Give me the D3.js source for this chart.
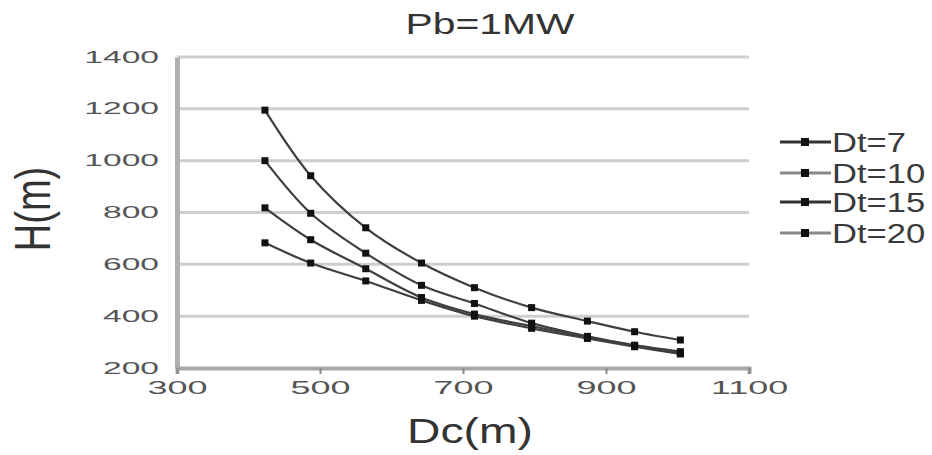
<!DOCTYPE html>
<html>
<head>
<meta charset="utf-8">
<script src="https://cdn.jsdelivr.net/npm/d3@7"></script>
<style>
  html, body { margin: 0; padding: 0; background: #fff; }
  svg { display: block; }
  text { font-family: Arial, "Liberation Sans", sans-serif; }
</style>
</head>
<body>
<svg id="chart" width="932" height="455"></svg>
<script>
// Pile height H versus distance Dc, for several Dt values (Pb = 1 MW)
const dcValues = [423, 487, 564, 642, 716, 796, 874, 940, 1004];
const seriesNames = ["Dt=7", "Dt=10", "Dt=15", "Dt=20"];
const hDt7  = [1195, 942, 741, 605, 510, 433, 381, 340, 308];
const hDt10 = [1000, 797, 643, 519, 449, 373, 322, 288, 263];
const hDt15 = [818, 695, 583, 472, 408, 361, 320, 285, 256];
const hDt20 = [683, 605, 536, 461, 400, 353, 314, 282, 254];
const xTicks = [300, 500, 700, 900, 1100];
const yTicks = [200, 400, 600, 800, 1000, 1200, 1400];

const series = [hDt7, hDt10, hDt15, hDt20].map((vals, i) => ({
  name: seriesNames[i],
  points: vals.map((h, j) => ({ x: dcValues[j], y: h }))
}));

const svg = d3.select("#chart");
const plotLeft = 177, plotRight = 749, plotTop = 57, plotBottom = 368;

const x = d3.scaleLinear().domain([300, 1100]).range([plotLeft, plotRight]);
const y = d3.scaleLinear().domain([200, 1400]).range([plotBottom, plotTop]);

// widen (or narrow) text along its own direction, keeping its anchor
function stretch(sel, factor) {
  sel.each(function () {
    const len = this.getComputedTextLength();
    d3.select(this)
      .attr("textLength", len * factor)
      .attr("lengthAdjust", "spacingAndGlyphs");
  });
}

// horizontal gridlines
svg.append("g")
  .selectAll("line")
  .data(yTicks.filter(v => v > 200))
  .join("line")
  .attr("x1", plotLeft).attr("x2", plotRight)
  .attr("y1", d => y(d)).attr("y2", d => y(d))
  .attr("stroke", "#d2cdcd").attr("stroke-width", 3);

// y axis
const yAxis = svg.append("g")
  .attr("transform", `translate(${plotLeft},0)`)
  .call(d3.axisLeft(y).tickValues(yTicks).tickSize(0).tickPadding(18).tickFormat(d3.format("d")));
yAxis.select(".domain").attr("stroke", "#b0b0b0").attr("stroke-width", 5);
yAxis.selectAll("text")
  .attr("font-size", 16).attr("fill", "#555")
  .call(stretch, 2.1);

// x axis
const xAxis = svg.append("g")
  .attr("transform", `translate(0,${plotBottom})`)
  .call(d3.axisBottom(x).tickValues(xTicks).tickSize(6).tickPadding(7).tickFormat(d3.format("d")));
xAxis.select(".domain").attr("stroke", "#a8a8a8").attr("stroke-width", 4);
xAxis.selectAll(".tick line").attr("stroke", "#888").attr("stroke-width", 2);
xAxis.selectAll("text")
  .attr("font-size", 18).attr("fill", "#555")
  .call(stretch, 2.0);

// curves
const line = d3.line()
  .x(d => x(d.x)).y(d => y(d.y))
  .curve(d3.curveCatmullRom.alpha(0.5));

const groups = svg.append("g").selectAll("g")
  .data(series)
  .join("g");

groups.append("path")
  .attr("d", d => line(d.points))
  .attr("fill", "none")
  .attr("stroke", "#3f3f3f")
  .attr("stroke-width", 2.2);

groups.selectAll("rect")
  .data(d => d.points)
  .join("rect")
  .attr("x", d => x(d.x) - 3.5).attr("y", d => y(d.y) - 3.5)
  .attr("width", 7).attr("height", 7)
  .attr("fill", "#111");

// legend
const legendY = [142, 173, 202, 233];
const legend = svg.append("g").selectAll("g")
  .data(series)
  .join("g")
  .attr("transform", (d, i) => `translate(780,${legendY[i]})`);
legend.append("line")
  .attr("x1", 0).attr("x2", 51)
  .attr("stroke", (d, i) => i === 0 || i === 2 ? "#333" : "#888")
  .attr("stroke-width", 3);
legend.append("rect")
  .attr("x", 21).attr("y", -4).attr("width", 8).attr("height", 8)
  .attr("fill", "#111");
legend.append("text")
  .attr("x", 52).attr("y", 10)
  .attr("font-size", 27).attr("fill", "#3a3a3a")
  .text(d => d.name)
  .call(stretch, 1.28);

// titles
svg.append("text")
  .attr("x", 490).attr("y", 34)
  .attr("text-anchor", "middle")
  .attr("font-size", 30).attr("fill", "#333")
  .text("Pb=1MW")
  .call(stretch, 1.36);

svg.append("text")
  .attr("transform", "translate(50,209) rotate(-90)")
  .attr("text-anchor", "middle")
  .attr("font-size", 50).attr("fill", "#333")
  .text("H(m)")
  .call(stretch, 0.76);

svg.append("text")
  .attr("x", 470).attr("y", 443)
  .attr("text-anchor", "middle")
  .attr("font-size", 35).attr("fill", "#333")
  .text("Dc(m)")
  .call(stretch, 1.32);
</script>
</body>
</html>
